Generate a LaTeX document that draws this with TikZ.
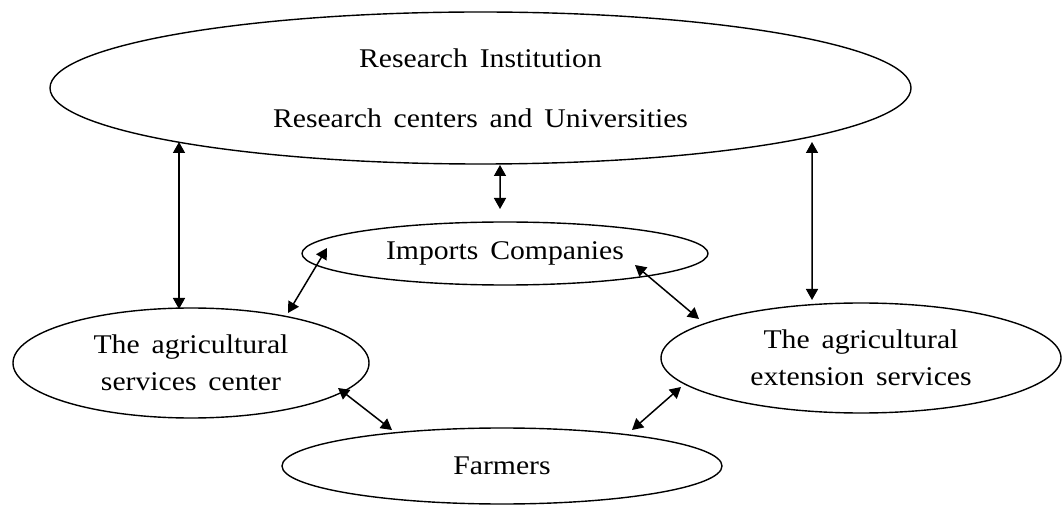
\documentclass[tikz,border=0pt]{standalone}
\usepackage{fontspec}
\setmainfont{Liberation Serif}[FakeStretch=1.1, WordSpace=1.6]
\usetikzlibrary{arrows.meta,calc,shapes.geometric}

\begin{document}
\begin{tikzpicture}[x=1bp,y=-1bp,
  bubble/.style={draw, ellipse, line width=1.4bp, inner sep=0pt, outer sep=0pt,
    align=center, font=\fontsize{27bp}{37.5bp}\selectfont},
  link/.style={line width=1.5bp,
    {Triangle[length=11bp,width=12bp]}-{Triangle[length=11bp,width=12bp]}}]
\useasboundingbox (0,0) rectangle (1063,506);

% organisations
\node[bubble, minimum width=861bp, minimum height=152bp] (T) at (480.5,88)
  {Research Institution\\[22.5bp]Research centers and Universities};
\node[bubble, minimum width=406bp, minimum height=63bp] (I) at (505,253.5)
  {Imports Companies};
\node[bubble, minimum width=356bp, minimum height=110bp] (L) at (191,363)
  {The agricultural\\services center};
\node[bubble, minimum width=400bp, minimum height=110bp] (R) at (861,358)
  {The agricultural\\extension services};
\node[bubble, minimum width=440bp, minimum height=76bp] (F) at (502,466)
  {Farmers};

% two-way links
\draw[link] ($(T.center)+(-301.5,54)$) -- ($(L.center)+(-12,-54)$);
\draw[link] ($(T.center)+(19.5,77)$) -- ($(I.center)+(-5,-44.5)$);
\draw[link] ($(T.center)+(331.5,54)$) -- ($(R.center)+(-49,-58)$);
\draw[link] ($(I.center)+(-178,-5.5)$) -- ($(L.center)+(97,-50)$);
\draw[link] ($(I.center)+(130,11.5)$) -- ($(R.center)+(-162,-39)$);
\draw[link] ($(L.center)+(147,25)$) -- ($(F.center)+(-110,-36)$);
\draw[link] ($(R.center)+(-180,29)$) -- ($(F.center)+(130,-36)$);
\end{tikzpicture}
\end{document}
